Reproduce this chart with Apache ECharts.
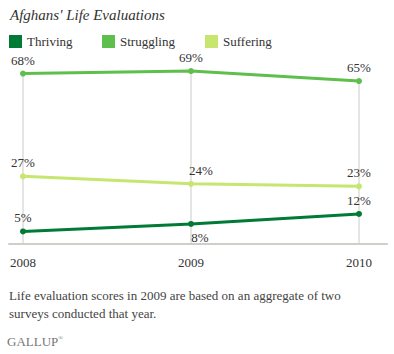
<!DOCTYPE html>
<html>
<head>
<meta charset="utf-8">
<script src="https://cdn.jsdelivr.net/npm/echarts@6/dist/echarts.min.js"></script>
<style>
  html, body { margin: 0; padding: 0; background: #fff; }
  #chart { width: 394px; height: 354px; }
</style>
</head>
<body>
<div id="chart"></div>
<script>
const years = [2008, 2009, 2010];
const thriving = [5, 8, 12];
const struggling = [68, 69, 65];
const suffering = [27, 24, 23];

const FONT = "'Liberation Serif', 'DejaVu Serif', serif";
const TEXT = '#333';

const pairs = (vals) => vals.map((v, i) => [years[i], v]);

function lineSeries(name, vals, color, labelOverrides) {
  return {
    name,
    type: 'line',
    data: pairs(vals).map((p, i) => {
      const item = { value: p };
      if (labelOverrides && labelOverrides[i]) item.label = labelOverrides[i];
      return item;
    }),
    symbol: 'circle',
    symbolSize: 6,
    z: 3,
    lineStyle: { color, width: 3 },
    itemStyle: { color },
    label: {
      show: true,
      position: 'top',
      distance: 4,
      formatter: (p) => p.value[1] + '%',
      fontFamily: FONT,
      fontSize: 13,
      color: TEXT
    }
  };
}

const chart = echarts.init(document.getElementById('chart'), null, { renderer: 'svg' });

chart.setOption({
  animation: false,
  backgroundColor: '#fff',
  textStyle: { fontFamily: FONT },
  title: [
    {
      text: "Afghans' Life Evaluations",
      left: 10, top: 7, padding: 0,
      textStyle: { fontFamily: FONT, fontStyle: 'italic', fontWeight: 'normal', fontSize: 15, color: TEXT }
    },
    {
      text: 'Life evaluation scores in 2009 are based on an aggregate of two\nsurveys conducted that year.',
      left: 9, top: 286, padding: 0,
      textStyle: { fontFamily: FONT, fontWeight: 'normal', fontSize: 13, lineHeight: 18, color: '#444' }
    },
    {
      text: 'GALLUP{r|®}',
      left: 7, top: 335, padding: 0,
      textStyle: {
        fontFamily: FONT, fontWeight: 'normal', fontSize: 13, color: '#777',
        rich: { r: { fontFamily: FONT, fontSize: 6, color: '#777', verticalAlign: 'top', padding: [0, 0, 6, 0] } }
      }
    }
  ],
  legend: [
    { name: 'Thriving', left: 9 },
    { name: 'Struggling', left: 102 },
    { name: 'Suffering', left: 205 }
  ].map((l) => ({
    data: [l.name],
    left: l.left,
    top: 35,
    padding: 0,
    icon: 'rect',
    itemWidth: 13,
    itemHeight: 13,
    itemGap: 6,
    textStyle: { fontFamily: FONT, fontSize: 13, color: TEXT }
  })),
  grid: { left: 9, right: 7, top: 43.5, bottom: 110 },
  xAxis: {
    type: 'value',
    min: 2008 - 14 / 168,
    max: 2010 + 28 / 168,
    axisLine: { show: true, lineStyle: { color: '#cfcfc9', width: 2 } },
    axisTick: { show: false },
    splitLine: { show: false },
    axisLabel: {
      customValues: years,
      margin: 12,
      fontFamily: FONT,
      fontSize: 13,
      color: TEXT,
      formatter: (v) => String(v)
    }
  },
  yAxis: {
    type: 'value',
    min: 0,
    max: 80,
    show: false
  },
  series: [
    {
      name: 'drop',
      type: 'bar',
      data: pairs(struggling),
      barWidth: 1,
      silent: true,
      z: 1,
      itemStyle: { color: '#cccccc' },
      legendHoverLink: false
    },
    lineSeries('Thriving', thriving, '#017a36', [null, { position: 'bottom', offset: [9, 0] }, null]),
    lineSeries('Struggling', struggling, '#5fbf4c', null),
    lineSeries('Suffering', suffering, '#c6e66f', [null, { offset: [10, 0] }, null])
  ]
});
</script>
</body>
</html>
